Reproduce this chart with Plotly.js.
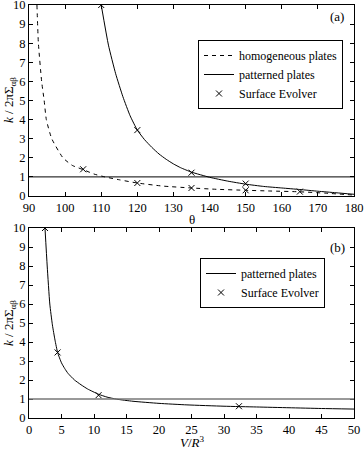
<!DOCTYPE html>
<html>
<head>
<meta charset="utf-8">
<script src="https://cdn.plot.ly/plotly-3.0.1.min.js"></script>
<style>
  body { margin: 0; background: #fff; }
  #chart { width: 364px; height: 449px; }
</style>
</head>
<body>
<div id="chart"></div>
<script>
// ---------- panel (a): k vs theta ----------
var homTheta = [92.2, 92.6, 93.5, 94.2, 94.8, 96.3, 99.4, 102, 105, 108, 111, 115, 120, 127, 135, 142, 150, 157, 165, 172, 180];
var homK     = [10, 8, 6, 5, 4, 3, 2, 1.6, 1.38, 1.15, 1.0, 0.85, 0.68, 0.52, 0.42, 0.35, 0.3, 0.26, 0.22, 0.15, 0.05];

var patTheta = [110, 112, 114, 116, 118, 120, 122, 124, 126, 128, 130, 132, 135, 140, 145, 150, 155, 160, 165, 170, 175, 180];
var patK     = [10, 7.9, 6.4, 5.2, 4.2, 3.45, 2.95, 2.55, 2.2, 1.92, 1.68, 1.48, 1.25, 0.98, 0.78, 0.62, 0.5, 0.42, 0.34, 0.25, 0.17, 0.09];

var seTheta = [105, 110, 120, 120, 135, 135, 150, 150, 165];
var seK     = [1.4, 10, 3.45, 0.68, 1.22, 0.42, 0.65, 0.3, 0.23];

// ---------- panel (b): k vs V/R^3 ----------
var patV  = [2.46, 2.8, 3.2, 3.6, 4.0, 4.4, 5.0, 5.5, 6.0, 7.0, 8.0, 9.0, 10.7, 12, 13.5, 16, 20, 24.3, 30, 35, 40, 45, 50];
var patKb = [10, 8.0, 6.0, 4.9, 4.1, 3.45, 2.9, 2.6, 2.35, 2.0, 1.75, 1.53, 1.25, 1.1, 0.99, 0.88, 0.77, 0.69, 0.62, 0.58, 0.54, 0.5, 0.47];

var seV  = [2.46, 4.4, 10.7, 32.3];
var seKb = [10, 3.45, 1.2, 0.62];

var threshold = 1;

var serif = "'Liberation Serif', 'Times New Roman', Times, serif";
var ink = '#000';

var seMarker = { symbol: 'x-thin-open', size: 6, color: ink, line: { color: ink, width: 1 } };

var data = [
  { x: homTheta, y: homK, name: 'homogeneous plates', type: 'scatter', mode: 'lines',
    line: { color: ink, width: 1, dash: '4px,4px', shape: 'spline', smoothing: 0.5 }, xaxis: 'x', yaxis: 'y', legend: 'legend' },
  { x: patTheta, y: patK, name: 'patterned plates', type: 'scatter', mode: 'lines',
    line: { color: ink, width: 1, shape: 'spline', smoothing: 0.5 }, xaxis: 'x', yaxis: 'y', legend: 'legend' },
  { x: seTheta, y: seK, name: 'Surface Evolver', type: 'scatter', mode: 'markers',
    marker: seMarker, xaxis: 'x', yaxis: 'y', legend: 'legend' },

  { x: patV, y: patKb, name: 'patterned plates', type: 'scatter', mode: 'lines',
    line: { color: ink, width: 1, shape: 'spline', smoothing: 0.5 }, xaxis: 'x2', yaxis: 'y2', legend: 'legend2' },
  { x: seV, y: seKb, name: 'Surface Evolver', type: 'scatter', mode: 'markers',
    marker: seMarker, xaxis: 'x2', yaxis: 'y2', legend: 'legend2' }
];

var axisBase = {
  showline: true, linecolor: ink, linewidth: 1, mirror: 'ticks',
  ticks: 'inside', ticklen: 4, tickcolor: ink, showgrid: false, zeroline: false,
  ticklabeloverflow: 'allow',
  tickfont: { family: serif, size: 12.5, color: ink }
};

function ax(extra) { return Object.assign({}, axisBase, extra); }

var legendBase = {
  bgcolor: '#fff', bordercolor: ink, borderwidth: 1,
  font: { family: serif, size: 12, color: ink },
  xanchor: 'left', yanchor: 'top', itemwidth: 30, tracegroupgap: 0
};

function label(text, x, y, extra) {
  return Object.assign({ text: text, xref: 'paper', yref: 'paper', x: x / 364, y: 1 - y / 449,
    xanchor: 'center', yanchor: 'middle', showarrow: false,
    font: { family: serif, size: 13, color: ink } }, extra || {});
}

var layout = {
  width: 364, height: 449,
  margin: { l: 0, r: 0, t: 0, b: 0 },
  paper_bgcolor: '#fff', plot_bgcolor: '#fff',
  font: { family: serif, color: ink },
  showlegend: true,
  xaxis:  ax({ domain: [29/364, 354/364], range: [90, 180], dtick: 10, anchor: 'y' }),
  yaxis:  ax({ domain: [1 - 196/449, 1 - 5/449], range: [0, 10], dtick: 1, anchor: 'x' }),
  xaxis2: ax({ domain: [29/364, 354/364], range: [0, 50], dtick: 5, anchor: 'y2' }),
  yaxis2: ax({ domain: [1 - 418/449, 1 - 228/449], range: [0, 10], dtick: 1, anchor: 'x2' }),
  legend:  Object.assign({}, legendBase, { x: 198/364, y: 1 - 40/449 }),
  legend2: Object.assign({}, legendBase, { x: 200/364, y: 1 - 258/449 }),
  shapes: [
    { type: 'line', xref: 'x domain', yref: 'y', x0: 0, x1: 1, y0: threshold, y1: threshold,
      line: { color: ink, width: 1 } },
    { type: 'line', xref: 'x2 domain', yref: 'y2', x0: 0, x1: 1, y0: threshold, y1: threshold,
      line: { color: '#777', width: 1.5 } }
  ],
  annotations: [
    label('(a)', 337, 17),
    label('(b)', 337, 247),
    label('<i>k</i> / 2πΣ<sub>αβ</sub>', 9, 100, { textangle: -90 }),
    label('<i>k</i> / 2πΣ<sub>αβ</sub>', 9, 323, { textangle: -90 }),
    label('θ', 192, 220),
    label('<i>V</i>/<i>R</i><sup>3</sup>', 192, 442)
  ]
};

Plotly.newPlot('chart', data, layout, { staticPlot: true, displayModeBar: false });
</script>
</body>
</html>
